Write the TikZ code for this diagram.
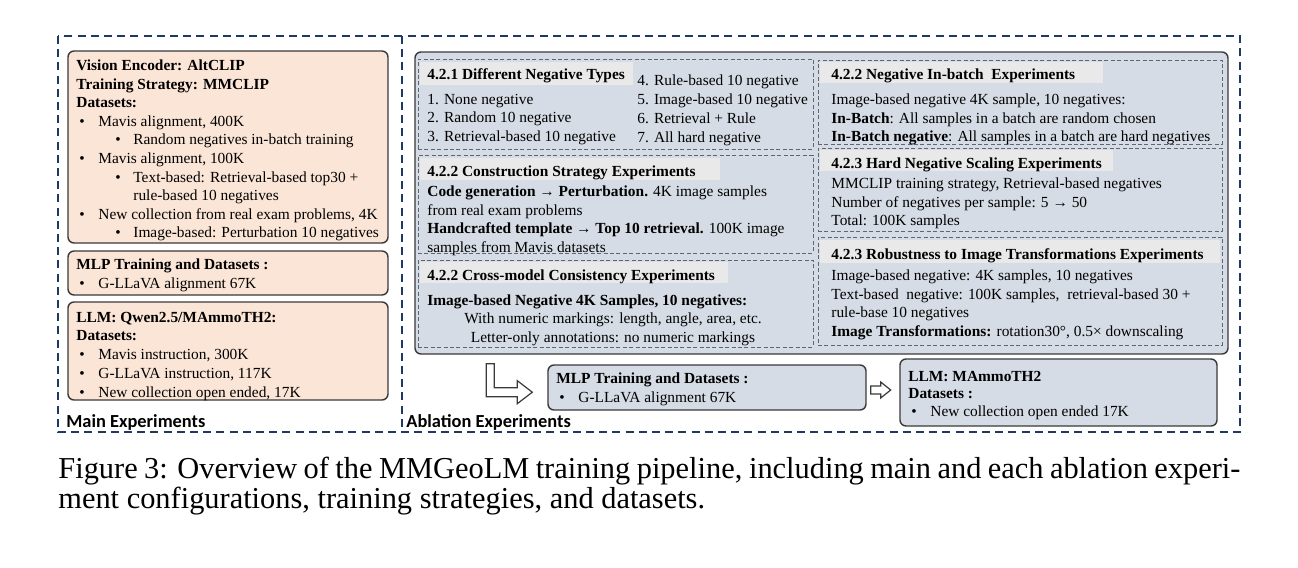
\documentclass[tikz,border=0pt]{standalone}
\usepackage{fontspec}
\setmainfont{Liberation Serif}
\newfontfamily\labelfont{Carlito}
\usetikzlibrary{fit,calc}

\definecolor{mainpink}{HTML}{FBE5D6}
\definecolor{ablgray}{HTML}{D6DCE5}
\definecolor{titlegray}{HTML}{E9E9E9}
\definecolor{boxline}{HTML}{3A3A3A}
\definecolor{dashgray}{HTML}{5F6670}
\definecolor{outerblue}{HTML}{1F3864}

\newcommand{\boxfont}{\fontsize{7.7}{9.3}\selectfont}
\newcommand{\itm}[1]{\makebox[11pt][l]{\hspace{1.5pt}\textbullet}#1}
\newcommand{\subitm}[1]{\hspace*{19.5pt}\makebox[9pt][l]{\textbullet}#1}
\newcommand{\subcont}[1]{\hspace*{28.5pt}#1}

\tikzset{
  mainbox/.style={draw=boxline, fill=mainpink, rounded corners=3pt, line width=0.7pt, inner sep=0pt},
  ablbox/.style={draw=boxline, fill=ablgray, rounded corners=3pt, line width=0.7pt, inner sep=0pt},
  expbox/.style={draw=dashgray, dash pattern=on 2pt off 1.2pt, line width=0.45pt, inner sep=0pt},
  bartitle/.style={fill=titlegray},
  % the given point is (about) the baseline of the first line
  body/.style={anchor=north west, yshift=4.75pt, inner sep=0pt, align=left, font=\boxfont,
    execute at begin node=\rule{0pt}{6pt}},
  head/.style={body, font=\boxfont\bfseries},
  grouplabel/.style={anchor=base west, inner sep=0pt, font=\labelfont\bfseries\fontsize{9.2}{11}\selectfont},
  hollow/.style={draw=boxline, fill=white, line width=0.6pt},
  outer/.style={draw=outerblue, line width=0.9pt, dash pattern=on 4pt off 2.6pt},
}

\begin{document}
\begin{tikzpicture}[x=0.5pt, y=-0.5pt]
  \useasboundingbox[fill=white] (0,0) rectangle (1298,568);

  % Cadre extérieur
  \draw[outer] (58,36) rectangle (1240,432);
  \draw[outer] (402,36) -- (402,432);

  % Main experiments
  \node[mainbox, fit={(68,51) (388,243)}] (enc) {};
  \node[body] (enctext) at (76,69) {\textbf{Vision Encoder: AltCLIP}\\
    \textbf{Training Strategy: MMCLIP}\\
    \textbf{Datasets:}\\
    \itm{Mavis alignment, 400K}\\
    \subitm{Random negatives in-batch training}\\
    \itm{Mavis alignment, 100K}\\
    \subitm{Text-based: Retrieval-based top30 +}\\
    \subcont{rule-based 10 negatives}\\
    \itm{New collection from real exam problems, 4K}\\
    \subitm{Image-based: Perturbation 10 negatives}};
  \node[mainbox, fit={(68,251) (388,295)}] (mlpmain) {};
  \node[body] (mlpmaintext) at (76,268) {\textbf{MLP Training and Datasets :}\\
    \itm{G-LLaVA alignment 67K}};
  \node[mainbox, fit={(68,302) (388,400)}] (llmmain) {};
  \node[body, font=\fontsize{7.7}{9.4}\selectfont] (llmmaintext) at (76,321) {\textbf{LLM: Qwen2.5/MAmmoTH2:}\\
    \textbf{Datasets:}\\
    \itm{Mavis instruction, 300K}\\
    \itm{G-LLaVA instruction, 117K}\\
    \itm{New collection open ended, 17K}};
  \node[grouplabel] (mainlabel) at (66,427) {Main Experiments};

  % Ablation experiments
  \node[ablbox, fit={(415,52) (1228,354)}] (abl) {};
  \node[expbox, fit={(418,59) (813,149)}] (negtypes) {};
  \node[expbox, fit={(418,155) (813,253)}] (constr) {};
  \node[expbox, fit={(418,260) (813,347)}] (cross) {};
  \node[expbox, fit={(818,60) (1222,144)}] (inbatch) {};
  \node[expbox, fit={(818,148) (1222,231)}] (hard) {};
  \node[expbox, fit={(818,237) (1222,345)}] (robust) {};
  \fill[bartitle] (420,62) rectangle (633,85);
  \fill[bartitle] (420,158) rectangle (720,180);
  \fill[bartitle] (420,262) rectangle (728,283);
  \fill[bartitle] (820,62) rectangle (1103,83);
  \fill[bartitle] (820,150) rectangle (1113,171);
  \fill[bartitle] (820,240) rectangle (1220,263);

  % 4.2.1
  \node[head] (negtitle) at (427,77) {4.2.1 Different Negative Types};
  \node[body] (negleft) at (427,103) {1. None negative\\
    2. Random 10 negative\\
    3. Retrieval-based 10 negative};
  \node[body, font=\fontsize{7.7}{9.5}\selectfont] (negright) at (637,84) {4. Rule-based 10 negative\\
    5. Image-based 10 negative\\
    6. Retrieval + Rule\\
    7. All hard negative};
  % 4.2.2 construction
  \node[head] (constrtitle) at (427,174) {4.2.2 Construction Strategy Experiments};
  \node[body] (constrtext) at (427,195) {\textbf{Code generation → Perturbation.} 4K image samples\\
    from real exam problems\\
    \textbf{Handcrafted template → Top 10 retrieval.} 100K image\\
    samples from Mavis datasets};
  % 4.2.2 cross-model
  \node[head] (crosstitle) at (427,278) {4.2.2 Cross-model Consistency Experiments};
  \node[head] (crosshead) at (427,303) {Image-based Negative 4K Samples, 10 negatives:};
  \node[body, anchor=north, align=center] (crosstext) at (613,322) {With numeric markings: length, angle, area, etc.\\
    Letter-only annotations: no numeric markings};
  % 4.2.2 in-batch
  \node[head] (inbatchtitle) at (831,77) {4.2.2 Negative In-batch\ \ Experiments};
  \node[body] (inbatchtext) at (831,103) {Image-based negative 4K sample, 10 negatives:\\
    \textbf{In-Batch}: All samples in a batch are random chosen\\
    \textbf{In-Batch negative}: All samples in a batch are hard negatives};
  % 4.2.3 scaling
  \node[head] (hardtitle) at (831,166) {4.2.3 Hard Negative Scaling Experiments};
  \node[body] (hardtext) at (831,187) {MMCLIP training strategy, Retrieval-based negatives\\
    Number of negatives per sample: 5 → 50\\
    Total: 100K samples};
  % 4.2.3 robustness
  \node[head] (robusttitle) at (831,257) {4.2.3 Robustness to Image Transformations Experiments};
  \node[body] (robusttext) at (831,279) {Image-based negative: 4K samples, 10 negatives\\
    Text-based\ \ negative: 100K samples,\ \ retrieval-based 30 +\\
    rule-base 10 negatives\\
    \textbf{Image Transformations:} rotation30°, 0.5× downscaling};

  % Suite de l'ablation
  \node[ablbox, fit={(548,365) (866,410)}] (mlpabl) {};
  \node[body] (mlpabltext) at (556,382) {\textbf{MLP Training and Datasets :}\\
    \itm{G-LLaVA alignment 67K}};
  \node[ablbox, fit={(900,359) (1217,426)}] (llmabl) {};
  \node[body, font=\fontsize{7.7}{8.8}\selectfont] (llmabltext) at (908,380) {\textbf{LLM: MAmmoTH2}\\
    \textbf{Datasets :}\\
    \itm{New collection open ended 17K}};
  \node[grouplabel] (abllabel) at (406,427) {Ablation Experiments};

  % Flèches creuses
  \path (abl.south west) ++(72,9) coordinate (lstem);
  \draw[hollow] (lstem) -- ++(8,0) -- ++(0,24) -- ++(23,0) -- ++(0,-7) -- ++(15,11.5)
    -- ++(-15,11.5) -- ++(0,-7) -- ++(-31,0) -- cycle;
  \path (mlpabl.east) ++(4,2.5) coordinate (rtail);
  \draw[hollow] (rtail) ++(0,-4) -- ++(10,0) -- ++(0,-4) -- ++(10,8) -- ++(-10,8)
    -- ++(0,-4) -- ++(-10,0) -- cycle;

  % Légende
  \node[anchor=base west, inner sep=0pt, text width=591pt, align=justify,
    font=\fontsize{15.2}{15}\selectfont] (caption) at (58,478)
    {Figure 3: Overview of the MMGeoLM training pipeline, including main and each ablation experi-\linebreak
     ment configurations, training strategies, and datasets.};
\end{tikzpicture}
\end{document}
